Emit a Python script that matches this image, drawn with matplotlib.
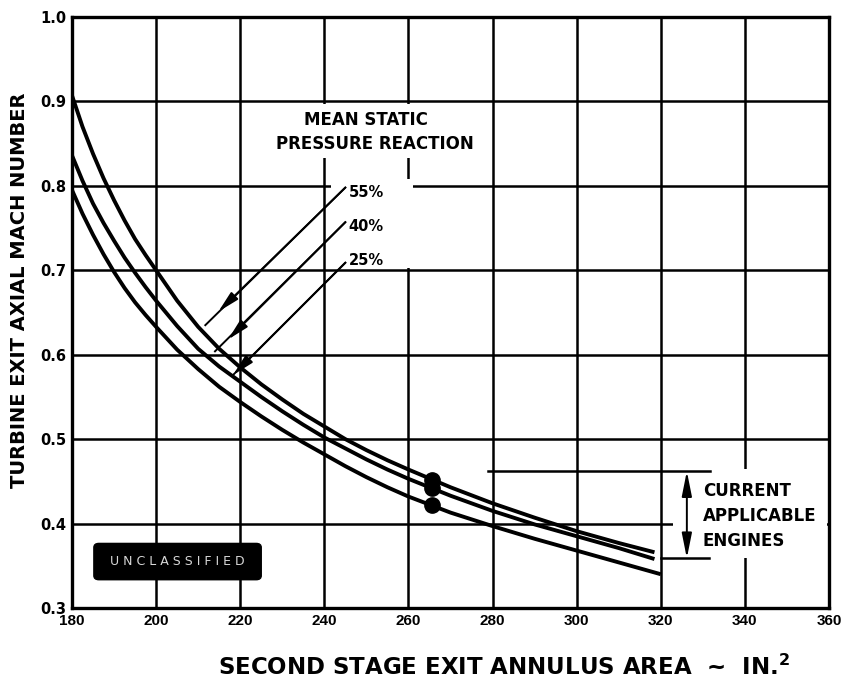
import matplotlib
matplotlib.use("Agg")
import matplotlib.pyplot as plt
from matplotlib.patches import FancyBboxPatch, Rectangle

plt.rcParams['font.family'] = ['DejaVu Sans']
plt.rcParams['font.weight'] = 'bold'
plt.rcParams['mathtext.fontset'] = 'dejavusans'

# Second stage exit annulus area (in^2)
area = [180, 182.5, 185, 187.5, 190, 192.5, 195, 197.5, 200, 205, 210, 215, 220, 225,
        230, 235, 240, 245, 250, 255, 260, 270, 280, 290, 300, 310, 318.5]
area_25 = [180, 182.5, 185, 187.5, 190, 192.5, 195, 197.5, 200, 205, 210, 215, 220, 225,
           230, 235, 240, 245, 250, 255, 260, 270, 280, 290, 300, 310, 320]

# Turbine exit axial Mach number for each mean static pressure reaction
mach_55 = [0.907, 0.870, 0.838, 0.809, 0.783, 0.759, 0.737, 0.718, 0.700, 0.664,
           0.633, 0.607, 0.585, 0.565, 0.547, 0.530, 0.515, 0.500, 0.487, 0.475,
           0.464, 0.443, 0.424, 0.407, 0.391, 0.377, 0.366]
mach_40 = [0.836, 0.806, 0.779, 0.756, 0.735, 0.715, 0.697, 0.680, 0.664, 0.634,
           0.607, 0.586, 0.568, 0.550, 0.533, 0.517, 0.502, 0.489, 0.476, 0.464,
           0.453, 0.433, 0.415, 0.399, 0.385, 0.371, 0.358]
mach_25 = [0.795, 0.767, 0.742, 0.719, 0.698, 0.679, 0.662, 0.647, 0.633, 0.606,
           0.583, 0.562, 0.544, 0.527, 0.511, 0.496, 0.482, 0.468, 0.455, 0.443,
           0.432, 0.413, 0.397, 0.382, 0.368, 0.354, 0.340]

# Design points
design_area = [265.5, 265.5, 265.5]
design_mach = [0.452, 0.442, 0.422]

reaction_labels = ['55%', '40%', '25%']

# Current applicable engines band
engine_band = [0.359, 0.462]

x_ticks = [180, 200, 220, 240, 260, 280, 300, 320, 340, 360]
y_ticks = [0.3, 0.4, 0.5, 0.6, 0.7, 0.8, 0.9, 1.0]

fig = plt.figure(figsize=(8.42, 6.82), dpi=100)
ax = fig.add_axes([72 / 842, 74 / 682, 757 / 842, 591 / 682])

ax.set_xlim(180, 360)
ax.set_ylim(0.3, 1.0)
ax.set_xticks(x_ticks)
ax.set_yticks(y_ticks)
ax.set_xticklabels([str(v) for v in x_ticks], fontsize=11, fontweight='bold',
                   family=['Liberation Sans', 'DejaVu Sans'])
ax.set_yticklabels([f'{v:.1f}' for v in y_ticks], fontsize=10.5, fontweight='bold')
ax.tick_params(length=0, pad=4)

ax.set_axisbelow(True)
ax.grid(True, color='black', linewidth=1.8)
for s in ax.spines.values():
    s.set_linewidth(2.4)

# blank areas behind the annotations
for (x0, y0, w, h) in [(225, 0.833, 50, 0.064), (241.5, 0.703, 19.5, 0.105),
                       (323, 0.359, 36.5, 0.106)]:
    ax.add_patch(Rectangle((x0, y0), w, h, facecolor='white', edgecolor='none', zorder=1))

# curves
for xs, ys in [(area, mach_55), (area, mach_40), (area_25, mach_25)]:
    ax.plot(xs, ys, color='black', linewidth=2.8, solid_capstyle='butt',
            solid_joinstyle='round', zorder=3)
ax.plot(design_area, design_mach, linestyle='none', marker='o', markersize=11,
        color='black', zorder=4)

# title of the curve family
ax.text(250.0, 0.878, 'MEAN STATIC', ha='center', va='center', fontsize=12,
        fontweight='bold', zorder=5)
ax.text(252.1, 0.850, 'PRESSURE REACTION', ha='center', va='center', fontsize=12,
        fontweight='bold', zorder=5)

# leader arrows for each reaction
leaders = [
    # label pos, start, head, end
    ((245.8, 0.792), (245.0, 0.798), (214.8, 0.651), (211.7, 0.635)),
    ((245.8, 0.752), (245.0, 0.757), (217.1, 0.618), (214.0, 0.604)),
    ((245.8, 0.712), (245.0, 0.709), (218.3, 0.576), (218.3, 0.576)),
]
for lab, (lpos, start, head, end) in zip(reaction_labels, leaders):
    ax.plot([start[0], end[0]], [start[1], end[1]], color='black', linewidth=1.4, zorder=4)
    ax.annotate('', xy=head, xytext=start,
                arrowprops=dict(arrowstyle='-|>,head_length=1.3,head_width=0.3',
                                color='black', lw=1.4, shrinkA=0, shrinkB=0,
                                mutation_scale=10),
                zorder=4)
    ax.text(lpos[0], lpos[1], lab, ha='left', va='center', fontsize=10.5,
            fontweight='bold', zorder=5)

# current applicable engines bracket
ax.plot([278.8, 331.7], [engine_band[1], engine_band[1]], color='black', linewidth=1.8, zorder=4)
ax.plot([320.0, 331.5], [engine_band[0], engine_band[0]], color='black', linewidth=1.8, zorder=4)
ax.annotate('', xy=(326.2, engine_band[0]), xytext=(326.2, engine_band[1]),
            arrowprops=dict(arrowstyle='<|-|>,head_length=1.5,head_width=0.3',
                            color='black', lw=1.4, shrinkA=0, shrinkB=0,
                            mutation_scale=10),
            zorder=4)
ax.text(330.0, 0.409, 'CURRENT\nAPPLICABLE\nENGINES', ha='left', va='center',
        fontsize=12, fontweight='bold', linespacing=1.5, zorder=5)

# classification marking
ax.add_patch(FancyBboxPatch((185.2, 0.3335), 39.8, 0.043,
                            boxstyle='round,pad=0,rounding_size=1.2',
                            mutation_aspect=0.004,
                            facecolor='black', edgecolor='black', zorder=4))
ax.text(205.1, 0.355, 'U N C L A S S I F I E D', ha='center', va='center',
        fontsize=9, fontweight='normal', color='#d8d8d8', zorder=5)

# axis titles
ax.text(-0.069, 0.538, 'TURBINE EXIT AXIAL MACH NUMBER', transform=ax.transAxes,
        rotation=90, ha='center', va='center', fontsize=14, fontweight='bold')
ax.text(0.571, -0.100, r'SECOND STAGE EXIT ANNULUS AREA  ~  IN.$^{\mathbf{2}}$',
        transform=ax.transAxes, ha='center', va='center', fontsize=16.5,
        fontweight='bold')

fig.savefig('out.png', dpi=100)
